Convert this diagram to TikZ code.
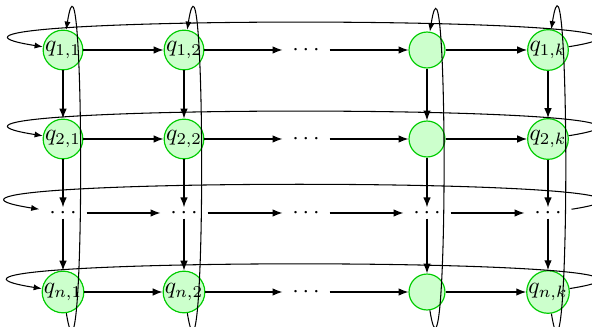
\documentclass[tikz,border=0pt]{standalone}
\usetikzlibrary{arrows.meta}
\begin{document}
\begin{tikzpicture}[x=0.4255pt,y=0.4255pt,
  qnode/.style={circle,draw=green!80!black,fill=green!20,inner sep=0pt,minimum size=15.3pt,line width=0.5pt},
  dnode/.style={inner xsep=4pt,inner ysep=0pt},
  arr/.style={-{Latex[length=4.2pt,width=3.2pt]},line width=0.5pt},
  wrap/.style={-{Latex[length=3.5pt,width=2.6pt]},line width=0.45pt}]
\useasboundingbox (0,0) rectangle (592,-327);
% row 1
\node[qnode] (a11) at (63,-50) {$q_{1,1}$};
\node[qnode] (a12) at (184,-50) {$q_{1,2}$};
\node[dnode] (a13) at (306,-50) {$\cdots$};
\node[qnode] (a14) at (427,-50) {};
\node[qnode] (a15) at (548,-50) {$q_{1,k}$};
% row 2
\node[qnode] (a21) at (63,-139) {$q_{2,1}$};
\node[qnode] (a22) at (184,-139) {$q_{2,2}$};
\node[dnode] (a23) at (306,-139) {$\cdots$};
\node[qnode] (a24) at (427,-139) {};
\node[qnode] (a25) at (548,-139) {$q_{2,k}$};
% row 3
\node[dnode] (a31) at (63,-213) {$\cdots$};
\node[dnode] (a32) at (184,-213) {$\cdots$};
\node[dnode] (a33) at (306,-213) {$\cdots$};
\node[dnode] (a34) at (427,-213) {$\cdots$};
\node[dnode] (a35) at (548,-213) {$\cdots$};
% row 4
\node[qnode] (a41) at (63,-292) {$q_{n,1}$};
\node[qnode] (a42) at (184,-292) {$q_{n,2}$};
\node[dnode] (a43) at (306,-292) {$\cdots$};
\node[qnode] (a44) at (427,-292) {};
\node[qnode] (a45) at (548,-292) {$q_{n,k}$};
% horizontal arrows
\foreach \r in {1,2,3,4}{
  \foreach \c/\d in {1/2,2/3,3/4,4/5}{
    \draw[arr] (a\r\c) -- (a\r\d);
  }
}
% vertical arrows
\foreach \c in {1,2,4,5}{
  \foreach \r/\s in {1/2,2/3,3/4}{
    \draw[arr] (a\r\c) -- (a\s\c);
  }
}
% horizontal wrap-arounds
\foreach \r in {1,2,3,4}{
  \draw[wrap] (a\r5) to[out=9,in=171,looseness=1.02] (a\r1);
}
% vertical wrap-arounds
\foreach \c in {1,2,4,5}{
  \draw[wrap] (a4\c) to[out=-81,in=81,looseness=1.1] (a1\c);
}
\end{tikzpicture}
\end{document}
